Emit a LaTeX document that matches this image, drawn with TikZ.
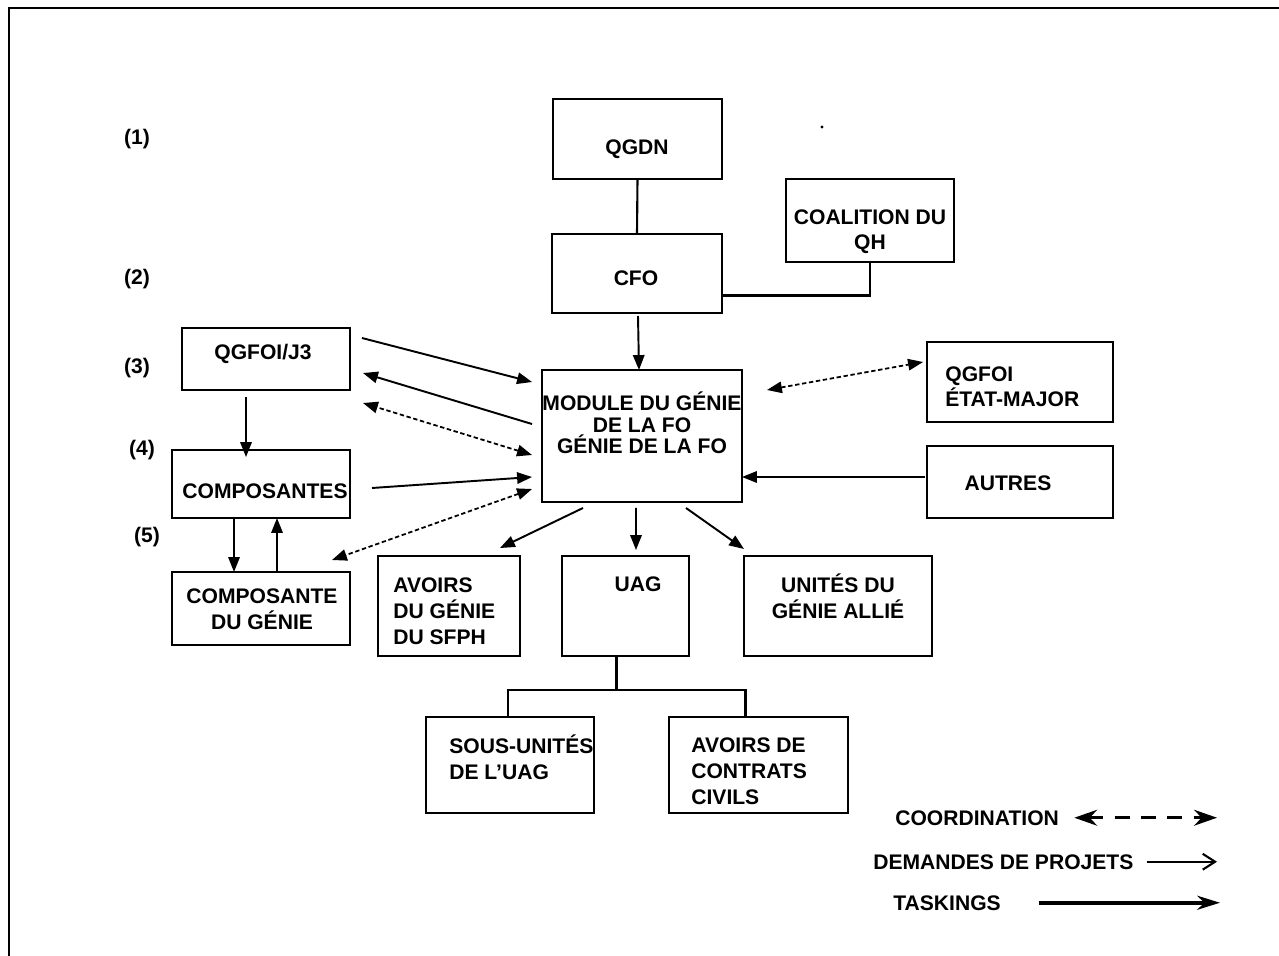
\documentclass[tikz,border=0pt]{standalone}
\usepackage{fontspec}
\setmainfont{Liberation Sans}
\usetikzlibrary{arrows.meta}

\tikzset{
  box/.style={draw, line width=1.3pt, inner sep=0pt, outer sep=0pt},
  txt/.style={inner sep=0pt, anchor=base},
  ltxt/.style={inner sep=0pt, anchor=base west, align=left},
  conn/.style={line width=1.2pt},
  arr/.style={line width=1.1pt, -{Triangle[length=8.5pt,width=6.5pt]}},
  darr/.style={line width=1pt, dash pattern=on 2.5pt off 1.5pt,
    {Triangle[length=8.5pt,width=6.5pt]}-{Triangle[length=8.5pt,width=6.5pt]}},
  lcoord/.style={line width=1.9pt, dash pattern=on 8.5pt off 6.5pt,
    {Stealth[length=13pt,width=9pt]}-{Stealth[length=13pt,width=9pt]}},
  ldem/.style={line width=1pt, -{Straight Barb[length=7pt,width=9pt,line width=1.2pt]}},
  ltask/.style={line width=2pt, -{Stealth[length=13pt,width=8pt]}}
}

\begin{document}
\begin{tikzpicture}[x=0.02cm, y=-0.02cm, font=\fontsize{12}{14.7}\selectfont\bfseries]
  \useasboundingbox (0,0) rectangle (1279,956);
  \draw[line width=1.3pt] (9,956) -- (9,8) -- (1279,8);

  % levels
  \node[txt] (lv1) at (137,145) {(1)};
  \node[txt] (lv2) at (137,285) {(2)};
  \node[txt] (lv3) at (137,374) {(3)};
  \node[txt] (lv4) at (142,456) {(4)};
  \node[txt] (lv5) at (147,542) {(5)};

  % boxes
  \node[box, minimum width=3.38cm, minimum height=1.6cm]  (qgdn) at (637.5,139) {};
  \node[box, minimum width=3.4cm,  minimum height=1.58cm] (cfo)  at (637,273.5) {};
  \node[box, minimum width=3.36cm, minimum height=1.66cm] (coal) at (870,220.5) {};
  \node[box, minimum width=4.0cm,  minimum height=2.64cm] (mod)  at (642,436) {};
  \node[box, minimum width=3.72cm, minimum height=1.6cm]  (qgem) at (1020,382) {};
  \node[box, minimum width=3.72cm, minimum height=1.44cm] (aut)  at (1020,482) {};
  \node[box, minimum width=3.36cm, minimum height=1.24cm] (j3)   at (266,359) {};
  \node[box, minimum width=3.56cm, minimum height=1.36cm] (comp) at (261,484) {};
  \node[box, minimum width=3.56cm, minimum height=1.46cm] (cgen) at (261,608.5) {};
  \node[box, minimum width=2.84cm, minimum height=2.0cm]  (sfph) at (449,606) {};
  \node[box, minimum width=2.54cm, minimum height=2.0cm]  (uag)  at (625.5,606) {};
  \node[box, minimum width=3.76cm, minimum height=2.0cm]  (allie) at (838,606) {};
  \node[box, minimum width=3.36cm, minimum height=1.92cm] (sous) at (510,765) {};
  \node[box, minimum width=3.58cm, minimum height=1.92cm] (cont) at (758.5,765) {};

  % texts (base = last line)
  \node[txt] (qgdn-t) at (637,155) {QGDN};
  \node[txt] (cfo-t) at (636,286) {CFO};
  \node[txt, align=center] (coal-t) at (870,250) {COALITION DU\\QH};
  \node[txt, align=center, font=\fontsize{12}{12.3}\selectfont\bfseries] (mod-t) at (642,454)
    {MODULE DU GÉNIE\\DE LA FO\\GÉNIE DE LA FO};
  \node[ltxt] (qgem-t) at (945,407) {QGFOI\\ÉTAT-MAJOR};
  \node[txt] (aut-t) at (1008,490) {AUTRES};
  \node[txt] (j3-t) at (263,360) {QGFOI/J3};
  \node[txt] (comp-t) at (265,499) {COMPOSANTES};
  \node[txt, align=center] (cgen-t) at (262,629) {COMPOSANTE\\DU GÉNIE};
  \node[ltxt] (sfph-t) at (393,644) {AVOIRS\\DU GÉNIE\\DU SFPH};
  \node[txt] (uag-t) at (638,591) {UAG};
  \node[txt, align=center] (allie-t) at (838,618) {UNITÉS DU\\GÉNIE ALLIÉ};
  \node[ltxt] (sous-t) at (449,779) {SOUS-UNITÉS\\DE L’UAG};
  \node[ltxt] (cont-t) at (691,804) {AVOIRS DE\\CONTRATS\\CIVILS};
  \fill (822,127) circle[radius=0.9pt];

  % lines
  \draw[conn] (qgdn.south) -- (cfo.north);
  \draw[conn] (coal.south) |- ([shift={(0,22)}]cfo.east);
  \draw[conn] ([shift={(-9,0)}]uag.south) -- ++(0,34) coordinate (fork);
  \draw[conn] ([shift={(-2,0)}]sous.north) |- (fork) -| ([shift={(-13,0)}]cont.north);

  % arrows
  \draw[arr] ([shift={(1,3)}]cfo.south) -- ([shift={(-3,0)}]mod.north);
  \draw[arr] ([shift={(12,10)}]j3.north east) -- ([shift={(-10,12)}]mod.north west);
  \draw[arr] ([shift={(-10,54)}]mod.north west) -- ([shift={(13,45)}]j3.north east);
  \draw[darr] ([shift={(-10,85)}]mod.north west) -- ([shift={(13,75)}]j3.north east);
  \draw[arr] ([shift={(-20,7)}]j3.south) -- ([shift={(-20,7)}]j3.south |- comp.north);
  \draw[arr] ([shift={(22,4)}]comp.east) -- ([shift={(-10,107)}]mod.north west);
  \draw[darr] ([shift={(-10,119)}]mod.north west) -- ([shift={(-18,-12)}]cgen.north east);
  \draw[arr] ([shift={(62,0)}]comp.south west) -- ([shift={(62,0)}]cgen.north west);
  \draw[arr] ([shift={(105,0)}]cgen.north west) -- ([shift={(105,0)}]comp.south west);
  \draw[darr] ([shift={(25,20)}]mod.north east) -- ([shift={(-4,20)}]qgem.north west);
  \draw[arr] ([shift={(-2,-5)}]aut.west) -- ([shift={(0,41)}]mod.east);
  \draw[arr] ([shift={(41,6)}]mod.south west) -- ([shift={(-20,-8)}]sfph.north east);
  \draw[arr] ([shift={(-6,6)}]mod.south) -- ([shift={(10.5,-6)}]uag.north);
  \draw[arr] ([shift={(44,6)}]mod.south) -- ([shift={(0,-7)}]allie.north west);

  % legend
  \coordinate (lgend) at (1217,0);
  \node[ltxt] (lgc) at (895,825) {COORDINATION};
  \node[ltxt] (lgd) at (873,869) {DEMANDES DE PROJETS};
  \node[ltxt] (lgt) at (893,910) {TASKINGS};
  \draw[lcoord] ([shift={(15,0)}]lgc.east) -- (lgc.east -| lgend);
  \draw[ldem] ([shift={(13,0)}]lgd.east) -- (lgd.east -| lgend);
  \draw[ltask] ([shift={(38,0)}]lgt.east) -- ([shift={(3,0)}]lgt.east -| lgend);
\end{tikzpicture}
\end{document}
